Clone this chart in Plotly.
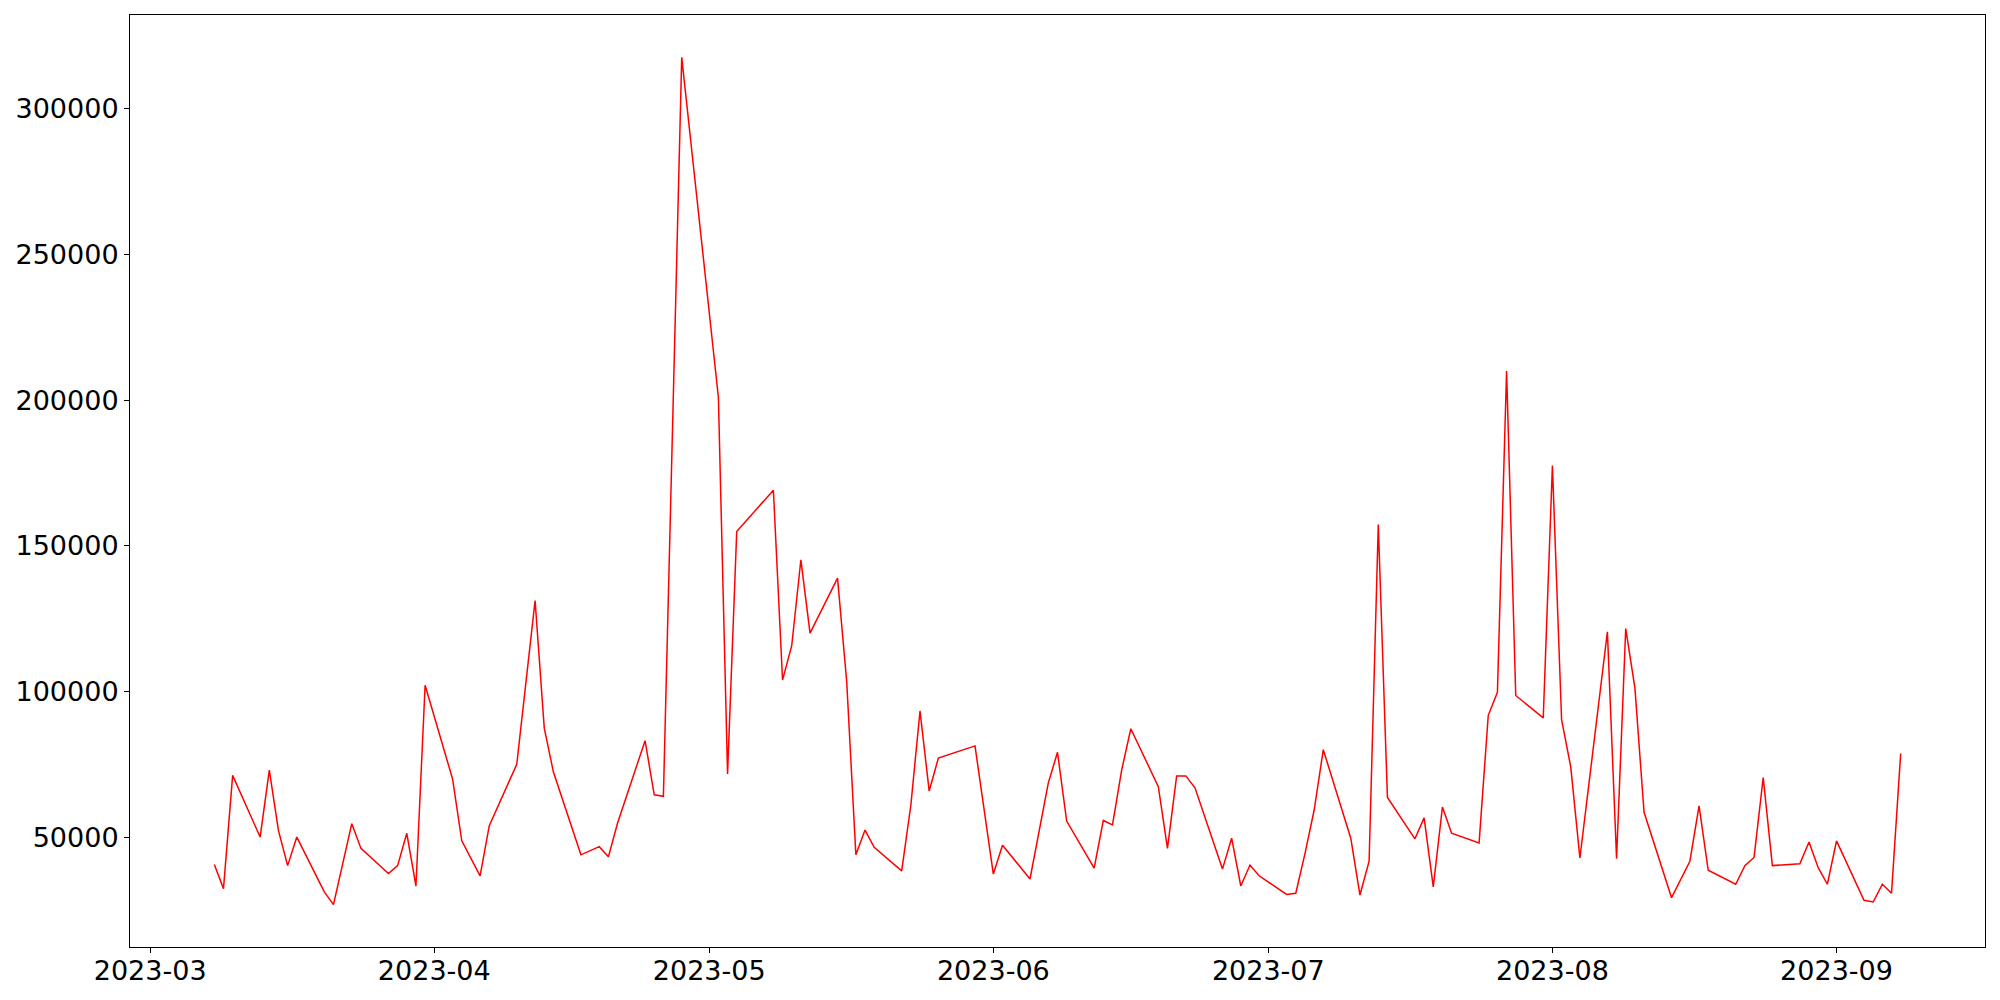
import pandas as pd
import plotly.graph_objects as go

dates = [
    "2023-03-08", "2023-03-09", "2023-03-10", "2023-03-13", "2023-03-14", "2023-03-15",
    "2023-03-16", "2023-03-17", "2023-03-20", "2023-03-21", "2023-03-23", "2023-03-24",
    "2023-03-27", "2023-03-28", "2023-03-29", "2023-03-30", "2023-03-31", "2023-04-03",
    "2023-04-04", "2023-04-06", "2023-04-07", "2023-04-10", "2023-04-12", "2023-04-13",
    "2023-04-14", "2023-04-17", "2023-04-19", "2023-04-20", "2023-04-21", "2023-04-24",
    "2023-04-25", "2023-04-26", "2023-04-28", "2023-05-02", "2023-05-03", "2023-05-04",
    "2023-05-08", "2023-05-09", "2023-05-10", "2023-05-11", "2023-05-12", "2023-05-15",
    "2023-05-16", "2023-05-17", "2023-05-18", "2023-05-19", "2023-05-22", "2023-05-23",
    "2023-05-24", "2023-05-25", "2023-05-26", "2023-05-30", "2023-06-01", "2023-06-02",
    "2023-06-05", "2023-06-07", "2023-06-08", "2023-06-09", "2023-06-12", "2023-06-13",
    "2023-06-14", "2023-06-15", "2023-06-16", "2023-06-19", "2023-06-20", "2023-06-21",
    "2023-06-22", "2023-06-23", "2023-06-26", "2023-06-27", "2023-06-28", "2023-06-29",
    "2023-06-30", "2023-07-03", "2023-07-04", "2023-07-05", "2023-07-06", "2023-07-07",
    "2023-07-10", "2023-07-11", "2023-07-12", "2023-07-13", "2023-07-14", "2023-07-17",
    "2023-07-18", "2023-07-19", "2023-07-20", "2023-07-21", "2023-07-24", "2023-07-25",
    "2023-07-26", "2023-07-27", "2023-07-28", "2023-07-31", "2023-08-01", "2023-08-02",
    "2023-08-03", "2023-08-04", "2023-08-07", "2023-08-08", "2023-08-09", "2023-08-10",
    "2023-08-11", "2023-08-14", "2023-08-16", "2023-08-17", "2023-08-18", "2023-08-21",
    "2023-08-22", "2023-08-23", "2023-08-24", "2023-08-25", "2023-08-28", "2023-08-29",
    "2023-08-30", "2023-08-31", "2023-09-01", "2023-09-04", "2023-09-05", "2023-09-06",
    "2023-09-07", "2023-09-08",
]

values = [
    40600, 32300, 71200, 50000, 73000, 52200,
    40200, 50000, 31200, 26800, 54600, 46100,
    37500, 40200, 51300, 33200, 102100, 69900,
    48700, 36700, 53900, 75000, 131200, 87400,
    72300, 43900, 46700, 43200, 54800, 83100,
    64500, 64000, 317700, 201000, 71700, 154900,
    169100, 103900, 115700, 145200, 120000, 138900,
    103400, 43900, 52400, 46500, 38400, 61000,
    93300, 65800, 77100, 81300, 37300, 47200,
    35600, 68600, 79100, 55500, 39300, 55700,
    54200, 73000, 87200, 67300, 46100, 71000,
    71000, 66900, 39000, 49600, 33200, 40400,
    36700, 30300, 30700, 44300, 59200, 80000,
    49600, 30100, 41700, 157300, 63600, 49400,
    56600, 32900, 60300, 51300, 48000, 91800,
    99700, 210000, 98600, 90900, 177600, 90300,
    74100, 42800, 120500, 42600, 121600, 101200,
    58500, 29200, 41700, 60700, 38600, 33800,
    40200, 43000, 70400, 40200, 40800, 48300,
    39500, 33800, 48700, 28300, 27700, 33800,
    30700, 78700,
]

y_ticks = [50000, 100000, 150000, 200000, 250000, 300000]

df = pd.DataFrame({"date": pd.to_datetime(dates), "value": values})

# margens de 5% como no matplotlib
x_pad = (df["date"].max() - df["date"].min()) * 0.05
y_pad = (df["value"].max() - df["value"].min()) * 0.05

fig = go.Figure(
    go.Scatter(
        x=df["date"],
        y=df["value"],
        mode="lines",
        line=dict(color="red", width=1.5),
    )
)

axis_style = dict(
    automargin=False,
    showgrid=False,
    zeroline=False,
    showline=True,
    mirror=True,
    linecolor="black",
    linewidth=1,
    ticks="outside",
    ticklen=5,
    tickwidth=1,
    tickcolor="black",
    tickfont=dict(family="DejaVu Sans", size=27, color="black"),
)

# a página tem margem de 8px no body, compensada aqui
fig.update_layout(
    width=2000,
    height=1000,
    margin=dict(l=122, r=23, t=7, b=61),
    plot_bgcolor="white",
    paper_bgcolor="white",
    showlegend=False,
)
fig.update_xaxes(
    range=[df["date"].min() - x_pad, df["date"].max() + x_pad],
    dtick="M1",
    tickformat="%Y-%m",
    ticklabelstandoff=-5,
    **axis_style,
)
fig.update_yaxes(
    range=[df["value"].min() - y_pad, df["value"].max() + y_pad],
    tickvals=y_ticks,
    tickformat="d",
    **axis_style,
)

fig.write_html("out.html")
